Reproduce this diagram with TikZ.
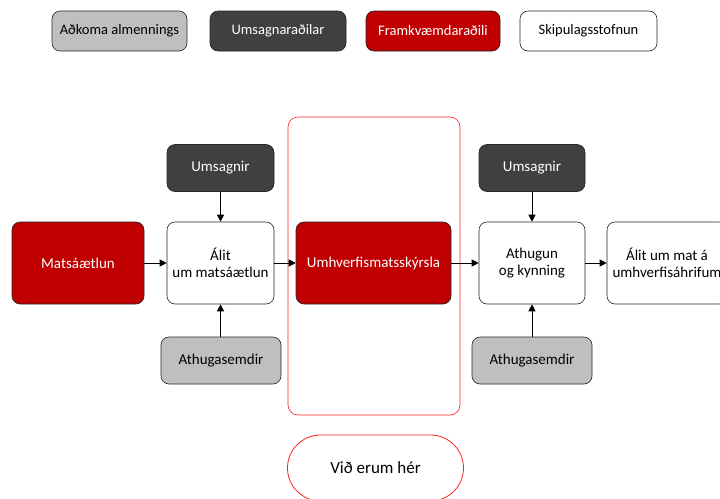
\documentclass[tikz,border=0pt]{standalone}
\usepackage{fontspec}
\setmainfont{Carlito}
\usepackage{xcolor}
\usepackage{tikz}
\usetikzlibrary{arrows.meta,positioning}

\definecolor{almgray}{HTML}{BFBFBF}
\definecolor{umsdark}{HTML}{404040}
\definecolor{frred}{HTML}{C00000}
\definecolor{herred}{HTML}{FF2020}

\begin{document}
\begin{tikzpicture}[
  x=1pt, y=-1pt,
  box/.style={rectangle, draw=black!85, semithick, rounded corners=8pt, align=center,
              font=\fontsize{15}{17.5}\selectfont, inner sep=0pt},
  legend/.style={box, minimum height=40pt, font=\fontsize{14.5}{17}\selectfont},
  mainbox/.style={box, minimum height=82pt},
  sidebox/.style={box, minimum height=47pt},
  arr/.style={-{Triangle[length=7pt,width=7pt]}, thick},
]
  \useasboundingbox (0,0) rectangle (720,498);
  \clip (0,0) rectangle (720,498);

  % legend
  \node[legend, fill=almgray, minimum width=135pt] (almenn) at (119.5,31) {Aðkoma almennings};
  \node[legend, fill=umsdark, text=white, minimum width=136pt] (umsadil) at (278,31) {Umsagnaraðilar};
  \node[legend, fill=frred, text=white, minimum width=134pt] (framkv) at (433,31) {Framkvæmdaraðili};
  \node[legend, fill=white, minimum width=137pt] (skipul) at (588.5,31) {Skipulagsstofnun};

  % red frame round the current step
  \node[draw=herred, semithick, rounded corners=10pt, minimum width=172pt, minimum height=298pt] (frame) at (374,266) {};

  % main row
  \node[mainbox, fill=frred, text=white, minimum width=132pt] (matsa) at (78,263) {Matsáætlun};
  \node[mainbox, fill=white, minimum width=107pt] (alit) at (220.5,263) {Álit\\um matsáætlun};
  \node[mainbox, fill=frred, text=white, minimum width=155pt] (umhv) at (373.5,263) {Umhverfismatsskýrsla};
  \node[mainbox, fill=white, minimum width=106pt] (athugun) at (532,263) {Athugun\\og kynning};
  \node[mainbox, fill=white, minimum width=120pt] (alitmat) at (667,263) {Álit um mat á\\umhverfisáhrifum};

  % umsagnir and athugasemdir
  \node[sidebox, fill=umsdark, text=white, minimum width=107pt] (ums1) at (220.5,168) {Umsagnir};
  \node[sidebox, fill=almgray, minimum width=120pt] (aths1) at (221,360.5) {Athugasemdir};
  \node[sidebox, fill=umsdark, text=white, minimum width=106pt] (ums2) at (532,168) {Umsagnir};
  \node[sidebox, fill=almgray, minimum width=120pt] (aths2) at (532,360.5) {Athugasemdir};

  % we are here
  \node[draw=herred, thick, rounded corners=33pt, minimum width=176pt, minimum height=66pt,
        font=\fontsize{17}{20}\selectfont] (her) at (375.5,468) {Við erum hér};

  \draw[arr] (matsa) -- (alit);
  \draw[arr] (alit) -- (umhv);
  \draw[arr] (umhv) -- (athugun);
  \draw[arr] (athugun) -- (alitmat);
  \draw[arr] (ums1) -- (alit);
  \draw[arr] (aths1.north -| alit) -- (alit);
  \draw[arr] (ums2) -- (athugun);
  \draw[arr] (aths2) -- (athugun);
\end{tikzpicture}
\end{document}
